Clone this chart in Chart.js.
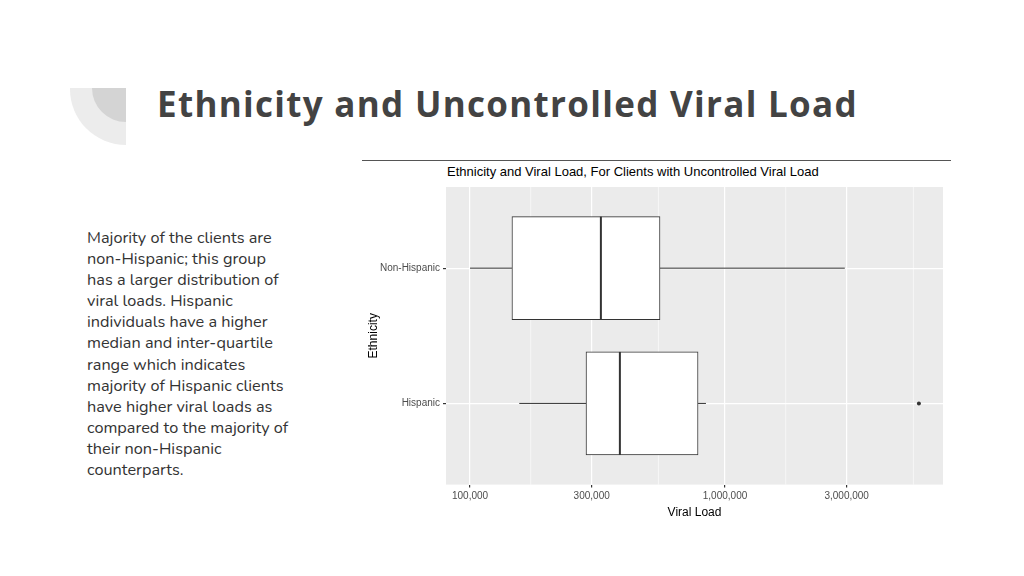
<!DOCTYPE html>
<html>
<head>
<meta charset="utf-8">
<script src="https://cdn.jsdelivr.net/npm/chart.js@4"></script>
<style>
  body { margin:0; width:1024px; height:576px; background:#fff; position:relative; overflow:hidden; font-family:"Open Sans", sans-serif; }
  .deco1 { position:absolute; left:70px; top:88px; width:56px; height:57px; background:#ececec; border-bottom-left-radius:56px; }
  .deco2 { position:absolute; left:92px; top:88px; width:34px; height:34px; background:#d4d4d4; border-bottom-left-radius:34px; }
  h1 { position:absolute; left:157px; top:80px; margin:0; font-size:35px; font-weight:700; color:#434343; letter-spacing:1.3px; }
  .txt { position:absolute; left:87px; top:228px; width:260px; white-space:nowrap; font-size:16.3px; line-height:21.1px; color:#333; font-family:"Nunito","Lato",sans-serif; }
  .rule { position:absolute; left:362px; top:160px; width:589px; height:1px; background:#555; }
  .ctitle { position:absolute; left:447px; top:164px; font-family:"Liberation Sans", Arial, sans-serif; font-size:13px; color:#000; }
  #wrap { position:absolute; left:362px; top:178px; width:588px; height:346px; }
</style>
</head>
<body>
<div class="deco1"></div><div class="deco2"></div>
<h1>Ethnicity and Uncontrolled Viral Load</h1>
<div class="txt">Majority of the clients are<br>non-Hispanic; this group<br>has a larger distribution of<br>viral loads. Hispanic<br>individuals have a higher<br>median and inter-quartile<br>range which indicates<br>majority of Hispanic clients<br>have higher viral loads as<br>compared to the majority of<br>their non-Hispanic<br>counterparts.</div>
<div class="rule"></div>
<div class="ctitle">Ethnicity and Viral Load, For Clients with Uncontrolled Viral Load</div>
<div id="wrap"><canvas id="c"></canvas></div>
<script>
const groups = ['Non-Hispanic', 'Hispanic'];
const whiskerLow = [100000, 156000];
const q1 = [146000, 285000];
const median = [326000, 387000];
const q3 = [556000, 784000];
const whiskerHigh = [2950000, 842000];
const outliers = [[], [5760000]];
const majorTicks = [100000, 300000, 1000000, 3000000];
const minorTicks = [173000, 548000, 1730000, 5480000];

const boxPlugin = {
  id: 'box',
  beforeDraw(chart) {
    const { ctx, chartArea: a, scales: { x } } = chart;
    ctx.save();
    ctx.fillStyle = '#ebebeb';
    ctx.fillRect(a.left, a.top, a.right - a.left, a.bottom - a.top);
    ctx.strokeStyle = '#fff';
    ctx.lineWidth = 0.6;
    minorTicks.forEach(v => {
      const px = x.getPixelForValue(v);
      if (px > a.left && px < a.right) { ctx.beginPath(); ctx.moveTo(px, a.top); ctx.lineTo(px, a.bottom); ctx.stroke(); }
    });
    ctx.restore();
  },
  afterDatasetsDraw(chart) {
    const { ctx, scales: { x, y } } = chart;
    const meta = chart.getDatasetMeta(0);
    ctx.save();
    ctx.strokeStyle = '#333';
    groups.forEach((g, i) => {
      const bar = meta.data[i];
      const cy = y.getPixelForValue(i);
      const h = bar.height / 2;
      ctx.lineWidth = 1;
      ctx.beginPath();
      ctx.moveTo(x.getPixelForValue(whiskerLow[i]), cy); ctx.lineTo(x.getPixelForValue(q1[i]), cy);
      ctx.moveTo(x.getPixelForValue(q3[i]), cy); ctx.lineTo(x.getPixelForValue(whiskerHigh[i]), cy);
      ctx.stroke();
      ctx.lineWidth = 2;
      const m = x.getPixelForValue(median[i]);
      ctx.beginPath(); ctx.moveTo(m, cy - h); ctx.lineTo(m, cy + h); ctx.stroke();
      ctx.fillStyle = '#333';
      outliers[i].forEach(v => { ctx.beginPath(); ctx.arc(x.getPixelForValue(v), cy, 2, 0, Math.PI * 2); ctx.fill(); });
    });
    ctx.restore();
  }
};

new Chart(document.getElementById('c'), {
  type: 'bar',
  data: {
    datasets: [{
      data: groups.map((g, i) => ({ x: [q1[i], q3[i]], y: i })),
      backgroundColor: '#fff',
      borderColor: '#333',
      borderWidth: 1,
      borderSkipped: false,
      barThickness: 103
    }]
  },
  plugins: [boxPlugin],
  options: {
    indexAxis: 'y',
    responsive: true,
    maintainAspectRatio: false,
    animation: false,
    layout: { padding: { top: 0, right: 7 } },
    plugins: { legend: { display: false }, tooltip: { enabled: false } },
    scales: {
      x: {
        type: 'logarithmic',
        min: 80500, max: 7160000,
        afterBuildTicks: s => { s.ticks = majorTicks.map(v => ({ value: v })); },
        ticks: { callback: v => Number(v).toLocaleString('en-US'), color: '#4d4d4d', font: { family: 'Liberation Sans', size: 10 }, maxRotation: 0, autoSkip: false },
        grid: { color: '#fff', lineWidth: 1.2, drawTicks: true, tickLength: 3, tickColor: '#333' },
        border: { display: false },
        title: { display: true, text: 'Viral Load', color: '#000', font: { family: 'Liberation Sans', size: 12 }, padding: { top: 0 } }
      },
      y: {
        type: 'linear',
        reverse: true,
        min: -0.6, max: 1.6,
        offset: false,
        afterBuildTicks: s => { s.ticks = groups.map((g, i) => ({ value: i })); },
        afterFit: s => { s.width = 84; },
        ticks: { callback: v => groups[v], color: '#4d4d4d', font: { family: 'Liberation Sans', size: 10 } },
        grid: { offset: false, color: '#fff', lineWidth: 1.2, tickLength: 3, tickColor: '#333' },
        border: { display: false },
        title: { display: true, text: 'Ethnicity', color: '#000', font: { family: 'Liberation Sans', size: 12 } }
      }
    }
  }
});
</script>
</body>
</html>
